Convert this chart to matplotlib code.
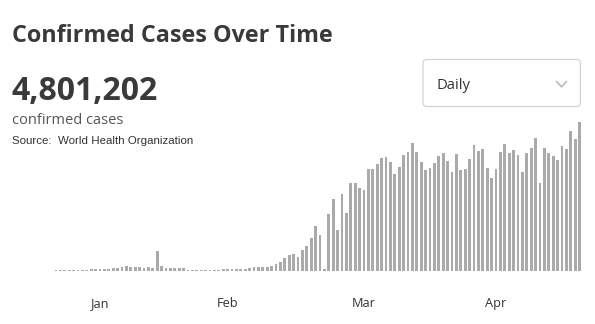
import matplotlib
matplotlib.use("Agg")
import matplotlib.pyplot as plt
import matplotlib.dates as mdates
from matplotlib.patches import FancyBboxPatch
import pandas as pd
import numpy as np

# ---- data ----
start_date = "2020-01-21"
daily_cases = [
    750, 750, 750, 750, 800, 800, 850, 900, 1400, 1400,
    1400, 1400, 1560, 1780, 2130, 2490, 3200, 2840, 2840, 2840,
    2130, 2490, 1780, 14200, 3550, 1780, 1780, 1780, 1780, 1780,
    750, 750, 750, 750, 750, 750, 800, 900, 1070, 1070,
    1070, 1280, 1400, 1400, 1780, 2840, 2840, 2840, 2840, 3340,
    5180, 6040, 9230, 11000, 11700, 9940, 14900, 17750, 23400, 31600,
    25600, 1070, 40500, 51100, 29100, 54300, 40800, 62500, 62500, 58900,
    57500, 72400, 72400, 76000, 80200, 80900, 77400, 68900, 73800, 82400,
    84500, 90900, 84500, 77400, 71400, 73100, 76500, 81200, 84000, 78100,
    70100, 82900, 71700, 72200, 79700, 89200, 85400, 86600, 73300, 65800,
    72400, 84500, 90400, 83600, 85700, 82600, 70100, 83600, 87500, 94400,
    62700, 87300, 84000, 81200, 78800, 88800, 86400, 99600, 93500, 106000,
]
month_tick_dates = ["2020-01-31", "2020-02-29", "2020-03-31", "2020-04-30"]
month_tick_labels = ["Jan", "Feb", "Mar", "Apr"]
title = "Confirmed Cases Over Time"
total_text = "4,801,202"
subtitle = "confirmed cases"
source_text = "Source:  World Health Organization"
dropdown_text = "Daily"

dates = pd.date_range(start_date, periods=len(daily_cases), freq="D")

W, H = 595, 324
fig = plt.figure(figsize=(W / 100, H / 100), dpi=100)
fig.patch.set_facecolor("white")

# ---- bar axes (pixel placement) ----
ax_left, ax_right = 40, 592
ax_top, ax_bottom = 110, 271
ax = fig.add_axes([ax_left / W, 1 - ax_bottom / H,
                   (ax_right - ax_left) / W, (ax_bottom - ax_top) / H])
ax.set_facecolor("none")
x = mdates.date2num(dates)
ax.bar(x, daily_cases, width=0.68, color="#aaaaab", linewidth=0)
pitch = 4.4  # px per day
first_px = 56
ax.set_xlim(x[0] - (first_px - ax_left) / pitch, x[0] + (ax_right - first_px) / pitch)
ax.set_ylim(0, max(daily_cases) * (ax_bottom - ax_top) / 149.5)
for s in ax.spines.values():
    s.set_visible(False)
ax.set_yticks([])
ax.set_xticks(mdates.date2num(pd.to_datetime(month_tick_dates)))
ax.set_xticklabels(month_tick_labels, fontfamily="Open Sans", fontsize=9.2, color="#333333")
ax.tick_params(axis="x", length=0, pad=18.5)

# ---- overlay in pixel coordinates ----
ov = fig.add_axes([0, 0, 1, 1])
ov.set_xlim(0, W)
ov.set_ylim(H, 0)
ov.axis("off")
ov.patch.set_alpha(0)

ov.text(12, 41.7, title, fontfamily="Open Sans", fontweight="bold", fontsize=16.8,
        color="#3a3a3a", va="baseline", ha="left")
ov.text(11, 100, total_text, fontfamily="Open Sans", fontweight="bold", fontsize=23,
        color="#3a3a3a", va="baseline", ha="left")
ov.text(12, 124, subtitle, fontfamily="Open Sans", fontsize=10.5,
        color="#555555", va="baseline", ha="left")
ov.text(12, 144.5, source_text, fontfamily="Liberation Sans", fontsize=8.25,
        color="#333333", va="baseline", ha="left")

box = FancyBboxPatch((423, 59.5), 157.5, 47, boxstyle="round,pad=0,rounding_size=4",
                     facecolor="white", edgecolor="#d4d4d4", linewidth=0.9)
ov.add_patch(box)
ov.text(437, 89.3, dropdown_text, fontfamily="Open Sans", fontsize=10.7,
        color="#333333", va="baseline", ha="left")
ov.plot([556.5, 561.5, 566.5], [81.5, 86.8, 81.5], color="#bdbdbd", linewidth=1.3,
        solid_capstyle="round", solid_joinstyle="round")

fig.savefig("out.png", dpi=100, facecolor="white")
